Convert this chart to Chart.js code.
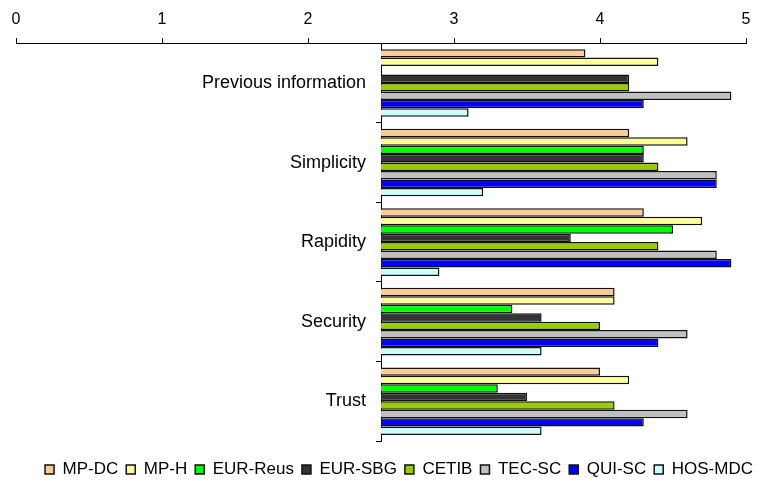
<!DOCTYPE html>
<html>
<head>
<meta charset="utf-8">
<script src="https://cdn.jsdelivr.net/npm/chart.js@4"></script>
<style>
  html, body { margin: 0; padding: 0; background: #fff; }
  #wrap { width: 763px; height: 484px; }
</style>
</head>
<body>
<div id="wrap"><canvas id="myChart"></canvas></div>
<script>
const categories = ['Previous information', 'Simplicity', 'Rapidity', 'Security', 'Trust'];
const xTicks = [0, 1, 2, 3, 4, 5];

const mpDC    = [3.9, 4.2, 4.3, 4.1, 4.0];
const mpH     = [4.4, 4.6, 4.7, 4.1, 4.2];
const eurReus = [null, 4.3, 4.5, 3.4, 3.3];
const eurSBG  = [4.2, 4.3, 3.8, 3.6, 3.5];
const cetib   = [4.2, 4.4, 4.4, 4.0, 4.1];
const tecSC   = [4.9, 4.8, 4.8, 4.6, 4.6];
const quiSC   = [4.3, 4.8, 4.9, 4.4, 4.3];
const hosMDC  = [3.1, 3.2, 2.9, 3.6, 3.6];

const FONT = '"Liberation Sans", Arial, sans-serif';

function series(label, data, color) {
  return {
    label: label,
    data: data,
    backgroundColor: color,
    borderColor: '#111',
    borderWidth: 1.5,
    base: 2.5,
    categoryPercentage: 0.85,
    barPercentage: 1.0
  };
}

// nudge the legend a bit right and down, like in the original
const legendShift = {
  id: 'legendShift',
  afterLayout(chart) {
    const lg = chart.legend;
    lg.left += 18; lg.right += 18;
    lg.top += 12; lg.bottom += 12;
  }
};

function createChart() {
  const ctx = document.getElementById('myChart').getContext('2d');
  new Chart(ctx, {
    type: 'bar',
    data: {
      labels: categories,
      datasets: [
        series('MP-DC', mpDC, '#FFCC99'),
        series('MP-H', mpH, '#FFFF99'),
        series('EUR-Reus', eurReus, '#00FF00'),
        series('EUR-SBG', eurSBG, '#333333'),
        series('CETIB', cetib, '#99CC00'),
        series('TEC-SC', tecSC, '#C0C0C0'),
        series('QUI-SC', quiSC, '#0000FF'),
        series('HOS-MDC', hosMDC, '#CCFFFF')
      ]
    },
    plugins: [legendShift],
    options: {
      indexAxis: 'y',
      responsive: true,
      maintainAspectRatio: false,
      animation: false,
      layout: { padding: { top: 1, left: 16, right: 17, bottom: 8 } },
      plugins: {
        tooltip: { enabled: false },
        legend: {
          display: true,
          position: 'bottom',
          labels: {
            boxWidth: 9,
            boxHeight: 9,
            padding: 8,
            color: '#000',
            font: { family: FONT, size: 17 }
          }
        }
      },
      scales: {
        x: {
          position: 'top',
          min: 0,
          max: 5,
          afterBuildTicks: axis => { axis.ticks = xTicks.map(v => ({ value: v })); },
          ticks: {
            color: '#000',
            padding: 9,
            font: { family: FONT, size: 16 }
          },
          grid: { drawOnChartArea: false, drawTicks: true, tickLength: 5, color: '#000' },
          border: { display: true, color: '#000', width: 1 }
        },
        y: {
          position: { x: 2.5 },
          ticks: {
            color: '#000',
            // the axis sits at 2.5, so the label gap is kept with trailing spaces
            callback: (v, i) => categories[i] + '   ',
            font: { family: FONT, size: 18 }
          },
          grid: { drawOnChartArea: false, drawTicks: true, tickLength: 5, color: '#000', offset: true },
          border: { display: true, color: '#000', width: 1 }
        }
      }
    }
  });
}

window.onload = createChart;
</script>
</body>
</html>
